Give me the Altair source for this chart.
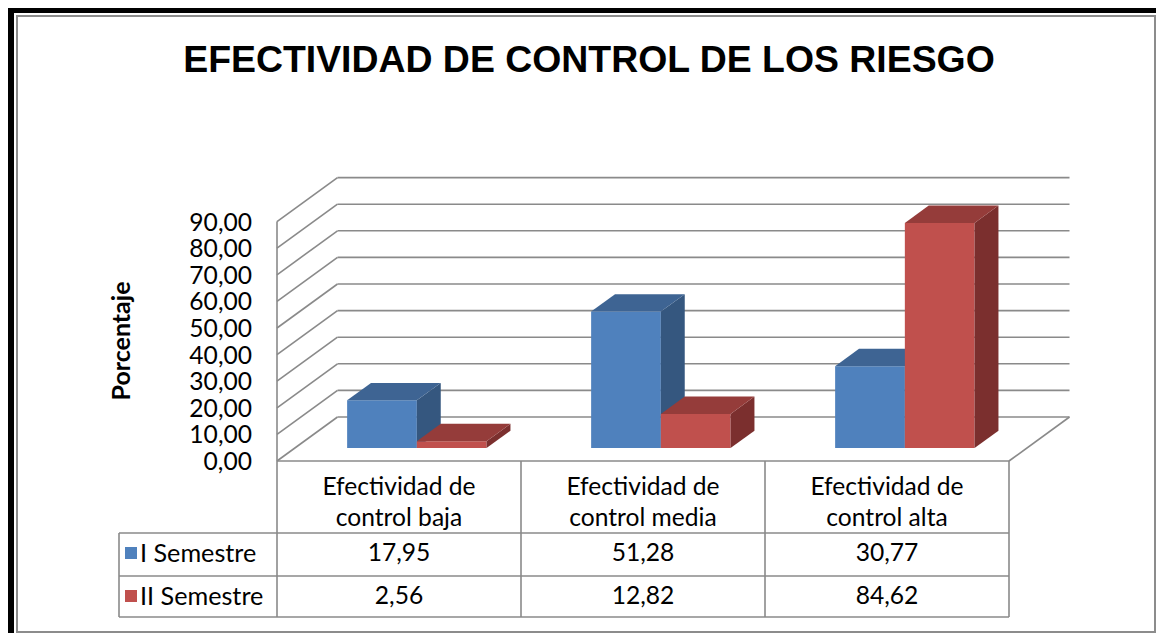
import altair as alt
import pandas as pd

# ---------------- data ----------------
title_text = "EFECTIVIDAD DE CONTROL DE LOS RIESGO"
y_title = "Porcentaje"
cat_line1 = ["Efectividad de", "Efectividad de", "Efectividad de"]
cat_line2 = ["control baja", "control media", "control alta"]
categories = [a + " " + b for a, b in zip(cat_line1, cat_line2)]
series_names = ["I Semestre", "II Semestre"]
values_s1 = [17.95, 51.28, 30.77]
values_s2 = [2.56, 12.82, 84.62]
y_ticks = [0, 10, 20, 30, 40, 50, 60, 70, 80, 90]

# ---------------- style / geometry ----------------
W, H = 1148, 625
PX_PER_U = 244.0          # px per category slot
U0_PX = 269.0             # chart-x of slot 0 left edge (front plane)
PX_PER_V = 2.66           # px per percentage point
V0_PX = 453.0             # chart-y of value 0 on front plane
DXU = 60.5 / PX_PER_U     # depth offset in x units
DYV = 44.0 / PX_PER_V     # depth offset in y units
D_FRONT, D_BACK = 0.295, 0.69
GAP = 1.5
BW = 1.0 / (2 + GAP)
LEG_U = (111.0 - U0_PX) / PX_PER_U
GRID = "#8a8a8a"
FONT = "Lato"
FS = 24.6

front_cols = ["#4F81BD", "#C0504D"]
top_cols = ["#3E6493", "#953C3A"]
side_cols = ["#35577F", "#7B2F2E"]

xs = alt.Scale(domain=[-U0_PX / PX_PER_U, (W - U0_PX) / PX_PER_U], nice=False, zero=False)
ys = alt.Scale(domain=[-(H - V0_PX) / PX_PER_V, V0_PX / PX_PER_V], nice=False, zero=False)


def X(f):
    return alt.X(f, type="quantitative", scale=xs, axis=None)


def Y(f):
    return alt.Y(f, type="quantitative", scale=ys, axis=None)


def fmt(v):
    return f"{v:.2f}".replace(".", ",")


one = pd.DataFrame({"k": [0]})
layers = []

# frame
layers.append(alt.Chart(one).mark_rect(color="black").encode(
    x=alt.value(0), x2=alt.value(6), y=alt.value(0), y2=alt.value(H)))
layers.append(alt.Chart(one).mark_rect(color="black").encode(
    x=alt.value(0), x2=alt.value(W), y=alt.value(0), y2=alt.value(5)))
layers.append(alt.Chart(one).mark_rect(fillOpacity=0, stroke="#8c8c8c", strokeWidth=2).encode(
    x=alt.value(9), x2=alt.value(W - 1), y=alt.value(8), y2=alt.value(H - 1)))

# back wall gridlines
grid_df = pd.DataFrame({"x": [DXU] * len(y_ticks), "x2": [3 + DXU] * len(y_ticks),
                        "y": [t + DYV for t in y_ticks]})
layers.append(alt.Chart(grid_df).mark_rule(color=GRID, strokeWidth=1.6).encode(
    x=X("x"), x2="x2", y=Y("y")))
# side wall diagonals + floor right edge
diag_df = pd.DataFrame({"x": [0.0] * len(y_ticks), "x2": [DXU] * len(y_ticks),
                        "y": y_ticks, "y2": [t + DYV for t in y_ticks]})
diag_df = pd.concat([diag_df, pd.DataFrame({"x": [3.0], "x2": [3 + DXU], "y": [0.0], "y2": [DYV]})])
layers.append(alt.Chart(diag_df).mark_rule(color=GRID, strokeWidth=1.6).encode(
    x=X("x"), x2="x2", y=Y("y"), y2="y2"))
# front wall vertical edge
edge_df = pd.DataFrame({"x": [0.0], "y": [0.0], "y2": [max(y_ticks)]})
layers.append(alt.Chart(edge_df).mark_rule(color=GRID, strokeWidth=1.6).encode(
    x=X("x"), y=Y("y"), y2="y2"))

# bars (3D)
for s, vals in enumerate([values_s1, values_s2]):
    front, side, top = [], [], []
    fx, fy = D_FRONT * DXU, D_FRONT * DYV
    bx, by = D_BACK * DXU, D_BACK * DYV
    for i, v in enumerate(vals):
        xa = i + 0.5 - BW + s * BW
        xb = xa + BW
        front.append(dict(x=xa + fx, x2=xb + fx, y=fy, y2=v + fy, bar=i))
        side += [dict(x=xb + fx, y=v + fy, y2=fy, bar=i), dict(x=xb + bx, y=v + by, y2=by, bar=i)]
        top += [dict(y=v + fy, x=xa + fx, x2=xb + fx, bar=i), dict(y=v + by, x=xa + bx, x2=xb + bx, bar=i)]
    layers.append(alt.Chart(pd.DataFrame(front)).mark_rect(color=front_cols[s]).encode(
        x=X("x"), x2="x2", y=Y("y"), y2="y2"))
    layers.append(alt.Chart(pd.DataFrame(side)).mark_area(color=side_cols[s], orient="vertical").encode(
        x=X("x"), y=Y("y"), y2="y2", detail="bar:N"))
    layers.append(alt.Chart(pd.DataFrame(top)).mark_area(color=top_cols[s], orient="horizontal").encode(
        y=Y("y"), x=X("x"), x2="x2", detail="bar:N"))

# axis tick labels
tick_df = pd.DataFrame({"y": y_ticks, "label": [fmt(t) for t in y_ticks]})
layers.append(alt.Chart(tick_df).mark_text(font=FONT, fontSize=FS, align="right", baseline="middle",
                                           dy=2, color="black").encode(
    x=alt.value(244), y=Y("y"), text="label:N"))
layers.append(alt.Chart(one).mark_text(font=FONT, fontSize=25, fontWeight="bold", angle=270,
                                       align="center", baseline="middle", color="black").encode(
    x=alt.value(114), y=alt.value(333), text=alt.value(y_title)))
layers.append(alt.Chart(one).mark_text(font="Liberation Sans", fontSize=37.4, fontWeight="bold",
                                       align="center", baseline="alphabetic", color="black").encode(
    x=alt.value(581), y=alt.value(64), text=alt.value(title_text)))

# data table lines
vlines = pd.DataFrame({"x": [0.0, 1.0, 2.0, 3.0]})
layers.append(alt.Chart(vlines).mark_rule(color=GRID, strokeWidth=1.6).encode(
    x=X("x"), y=alt.value(V0_PX), y2=alt.value(609)))
layers.append(alt.Chart(pd.DataFrame({"x": [LEG_U]})).mark_rule(color=GRID, strokeWidth=1.6).encode(
    x=X("x"), y=alt.value(525), y2=alt.value(609)))
layers.append(alt.Chart(pd.DataFrame({"x": [0.0], "x2": [3.0], "y": [0.0]})).mark_rule(
    color=GRID, strokeWidth=1.6).encode(x=X("x"), x2="x2", y=Y("y")))
for py in [525, 568, 609]:
    layers.append(alt.Chart(pd.DataFrame({"x": [LEG_U], "x2": [3.0]})).mark_rule(
        color=GRID, strokeWidth=1.6).encode(x=X("x"), x2="x2", y=alt.value(py)))

# table texts
cat_df = pd.DataFrame({"x": [i + 0.5 for i in range(3)], "l1": cat_line1, "l2": cat_line2})
layers.append(alt.Chart(cat_df).mark_text(font=FONT, fontSize=FS, baseline="middle", color="black").encode(
    x=X("x"), y=alt.value(480), text="l1:N"))
layers.append(alt.Chart(cat_df).mark_text(font=FONT, fontSize=FS, baseline="middle", color="black").encode(
    x=X("x"), y=alt.value(511), text="l2:N"))
row_y = [546, 589]
for s, vals in enumerate([values_s1, values_s2]):
    vdf = pd.DataFrame({"x": [i + 0.5 for i in range(3)], "t": [fmt(v) for v in vals]})
    layers.append(alt.Chart(vdf).mark_text(font=FONT, fontSize=FS, baseline="middle", color="black").encode(
        x=X("x"), y=alt.value(row_y[s]), text="t:N"))
    layers.append(alt.Chart(one).mark_square(size=144, filled=True, opacity=1, color=front_cols[s]).encode(
        x=alt.value(123), y=alt.value(row_y[s] - 1)))
    layers.append(alt.Chart(one).mark_text(font=FONT, fontSize=FS + 0.6, align="left", baseline="middle",
                                           color="black").encode(
        x=alt.value(132), y=alt.value(row_y[s]), text=alt.value(series_names[s])))

chart = alt.layer(*layers).properties(
    width=W, height=H, padding=0, autosize=alt.AutoSizeParams(type="none"), background="white"
).configure_view(strokeWidth=0)

chart.save("out.html", embed_options={"renderer": "svg", "actions": False})
